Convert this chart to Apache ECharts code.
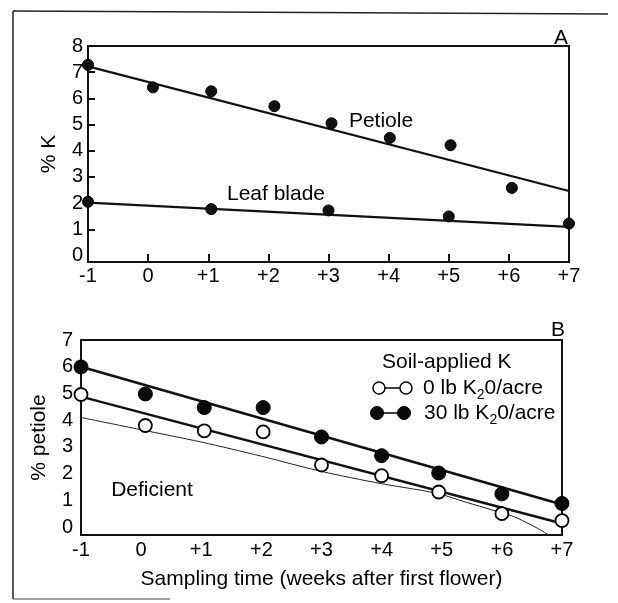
<!DOCTYPE html>
<html>
<head>
<meta charset="utf-8">
<script src="https://cdn.jsdelivr.net/npm/echarts@6/dist/echarts.min.js"></script>
<style>
html,body{margin:0;padding:0;background:#fff;}
#c{width:618px;height:603px;}
</style>
</head>
<body>
<div id="c"></div>
<script>
// ---- Panel A data ----
const xTicks = [-1, 0, 1, 2, 3, 4, 5, 6, 7];
const yTicksA = [0, 1, 2, 3, 4, 5, 6, 7, 8];
const yTicksB = [0, 1, 2, 3, 4, 5, 6, 7];
const petioleWeek = [-1, 0.08, 1.05, 2.1, 3.05, 4.02, 5.03, 6.05];
const petioleK = [7.28, 6.42, 6.27, 5.70, 5.05, 4.49, 4.21, 2.58];
const petioleFitWeek = [-1, 7];
const petioleFitK = [7.22, 2.46];
const bladeWeek = [-1, 1.05, 3.0, 5.0, 7.0];
const bladeK = [2.05, 1.77, 1.72, 1.49, 1.22];
const bladeFitWeek = [-1, 7];
const bladeFitK = [2.02, 1.09];
// ---- Panel B data ----
const weekB = [-1, 0.07, 1.05, 2.03, 3, 4, 4.95, 6, 7];
const k30 = [5.99, 4.98, 4.47, 4.47, 3.37, 2.67, 2.02, 1.24, 0.88];
const k0 = [4.96, 3.80, 3.60, 3.56, 2.32, 1.92, 1.31, 0.50, 0.24];
const fit30Week = [-1, 7];
const fit30 = [6.0, 0.84];
const fit0Week = [-1, 7];
const fit0 = [4.88, 0.13];
const critWeek = [-1, 0, 1, 2, 3, 4, 4.9, 5.4, 5.85, 6.15, 6.4, 6.6, 6.78];
const critK = [4.1, 3.64, 3.18, 2.65, 2.08, 1.62, 1.27, 0.93, 0.63, 0.43, 0.18, -0.06, -0.3];

const FONT = '"Liberation Sans", Arial, sans-serif';
const zip = (a, b) => a.map((v, i) => [v, b[i]]);
const fmtX = v => (v > 0 ? '+' + v : String(v));

const chart = echarts.init(document.getElementById('c'), null, {renderer: 'canvas'});

const subRich = {
  n: {fontSize: 21, lineHeight: 24, verticalAlign: 'top', fontFamily: FONT, fill: '#000'},
  s: {fontSize: 14, lineHeight: 14, padding: [14, 0, 0, 0], verticalAlign: 'bottom', fontFamily: FONT, fill: '#000'}
};

const AX = {color: '#111', width: 2};

const option = {
  animation: false,
  backgroundColor: '#fff',
  textStyle: {fontFamily: FONT, color: '#000'},
  grid: [
    {left: 88, right: 49, top: 46, height: 216, show: true, borderColor: '#111', borderWidth: 2, backgroundColor: 'transparent'},
    {left: 81, right: 56, top: 340, height: 195, show: true, borderColor: '#111', borderWidth: 2, backgroundColor: 'transparent'}
  ],
  xAxis: [
    {type: 'value', gridIndex: 0, min: -1, max: 7, interval: 1,
     axisLine: {show: true, onZero: false, lineStyle: AX},
     axisTick: {show: true, inside: true, length: 8, lineStyle: AX},
     splitLine: {show: false},
     axisLabel: {formatter: fmtX, fontSize: 20, color: '#000', margin: 4, fontFamily: FONT}},
    {type: 'value', gridIndex: 1, min: -1, max: 7, interval: 1,
     axisLine: {show: true, onZero: false, lineStyle: AX},
     axisTick: {show: false},
     splitLine: {show: false},
     axisLabel: {formatter: fmtX, fontSize: 20, color: '#000', margin: 5, fontFamily: FONT},
     name: 'Sampling time (weeks after first flower)', nameLocation: 'middle', nameGap: 34,
     nameTextStyle: {fontSize: 21, color: '#000', fontFamily: FONT}}
  ],
  yAxis: [
    {type: 'value', gridIndex: 0, min: -0.25, max: 8,
     axisLine: {show: true, onZero: false, lineStyle: AX},
     axisTick: {show: true, inside: true, length: 7, customValues: yTicksA.slice(1, 8), lineStyle: AX},
     splitLine: {show: false},
     axisLabel: {customValues: yTicksA, fontSize: 20, color: '#000', margin: 5, fontFamily: FONT},
     name: '% K', nameLocation: 'middle', nameGap: 28, nameRotate: 90,
     nameTextStyle: {fontSize: 21, color: '#000', fontFamily: FONT}},
    {type: 'value', gridIndex: 1, min: -0.3, max: 7,
     axisLine: {show: true, onZero: false, lineStyle: AX},
     axisTick: {show: false},
     splitLine: {show: false},
     axisLabel: {customValues: yTicksB, fontSize: 20, color: '#000', margin: 8, fontFamily: FONT},
     name: '% petiole', nameLocation: 'middle', nameGap: 31, nameRotate: 90,
     nameTextStyle: {fontSize: 21, color: '#000', fontFamily: FONT}}
  ],
  series: [
    {name: 'Petiole fit', type: 'line', xAxisIndex: 0, yAxisIndex: 0, data: zip(petioleFitWeek, petioleFitK),
     symbol: 'none', lineStyle: {color: '#111', width: 2.2}, z: 2},
    {name: 'Leaf blade fit', type: 'line', xAxisIndex: 0, yAxisIndex: 0, data: zip(bladeFitWeek, bladeFitK),
     symbol: 'none', lineStyle: {color: '#111', width: 2.2}, z: 2},
    {name: 'Petiole', type: 'scatter', xAxisIndex: 0, yAxisIndex: 0, data: zip(petioleWeek, petioleK),
     symbol: 'circle', symbolSize: 11, itemStyle: {color: '#111', borderColor: '#000', borderWidth: 1, opacity: 1}, z: 3},
    {name: 'Leaf blade', type: 'scatter', xAxisIndex: 0, yAxisIndex: 0, data: zip(bladeWeek, bladeK),
     symbol: 'circle', symbolSize: 11, itemStyle: {color: '#111', borderColor: '#000', borderWidth: 1, opacity: 1}, z: 3},

    {name: 'Critical', type: 'line', xAxisIndex: 1, yAxisIndex: 1, data: zip(critWeek, critK),
     symbol: 'none', smooth: 0.3, lineStyle: {color: '#222', width: 1}, z: 1},
    {name: '30 fit', type: 'line', xAxisIndex: 1, yAxisIndex: 1, data: zip(fit30Week, fit30),
     symbol: 'none', lineStyle: {color: '#111', width: 2.5}, z: 2},
    {name: '0 fit', type: 'line', xAxisIndex: 1, yAxisIndex: 1, data: zip(fit0Week, fit0),
     symbol: 'none', lineStyle: {color: '#111', width: 2.5}, z: 2},
    {name: '30 lb K2O/acre', type: 'scatter', xAxisIndex: 1, yAxisIndex: 1, data: zip(weekB, k30),
     symbol: 'circle', symbolSize: 14, itemStyle: {color: '#0a0a0a', borderColor: '#000', borderWidth: 1, opacity: 1}, z: 3},
    {name: '0 lb K2O/acre', type: 'scatter', xAxisIndex: 1, yAxisIndex: 1, data: zip(weekB, k0),
     symbol: 'circle', symbolSize: 13, itemStyle: {color: '#fff', borderColor: '#000', borderWidth: 1.8, opacity: 1}, z: 3}
  ],
  graphic: [
    // outer frame
    {type: 'line', shape: {x1: 13, y1: 11, x2: 608, y2: 14}, style: {stroke: '#222', lineWidth: 1.5}, silent: true},
    {type: 'line', shape: {x1: 13, y1: 11, x2: 13, y2: 599}, style: {stroke: '#222', lineWidth: 1.5}, silent: true},
    {type: 'line', shape: {x1: 13, y1: 599, x2: 170, y2: 599}, style: {stroke: '#444', lineWidth: 1.2}, silent: true},
    // panel letters
    {type: 'text', x: 561, y: 38, style: {text: 'A', font: '21px ' + FONT, fill: '#000', align: 'center', verticalAlign: 'middle'}},
    {type: 'text', x: 558, y: 330, style: {text: 'B', font: '21px ' + FONT, fill: '#000', align: 'center', verticalAlign: 'middle'}},
    // annotations
    {type: 'text', x: 381, y: 121, style: {text: 'Petiole', font: '21px ' + FONT, fill: '#000', align: 'center', verticalAlign: 'middle'}},
    {type: 'text', x: 276, y: 194, style: {text: 'Leaf blade', font: '21px ' + FONT, fill: '#000', align: 'center', verticalAlign: 'middle'}},
    {type: 'text', x: 152, y: 490, style: {text: 'Deficient', font: '21px ' + FONT, fill: '#000', align: 'center', verticalAlign: 'middle'}},
    // legend
    {type: 'text', x: 382, y: 362, style: {text: 'Soil-applied K', font: '21px ' + FONT, fill: '#000', align: 'left', verticalAlign: 'middle'}},
    {type: 'line', shape: {x1: 379, y1: 388, x2: 406, y2: 388}, style: {stroke: '#000', lineWidth: 1.5}},
    {type: 'circle', shape: {cx: 379, cy: 388, r: 6}, style: {fill: '#fff', stroke: '#000', lineWidth: 1.5}},
    {type: 'circle', shape: {cx: 406, cy: 388, r: 6}, style: {fill: '#fff', stroke: '#000', lineWidth: 1.5}},
    {type: 'text', x: 423, y: 390, style: {text: '{n|0 lb K}{s|2}{n|0/acre}', rich: subRich, align: 'left', verticalAlign: 'middle'}},
    {type: 'line', shape: {x1: 377, y1: 413, x2: 404, y2: 413}, style: {stroke: '#000', lineWidth: 1.5}},
    {type: 'circle', shape: {cx: 377, cy: 413, r: 6.5}, style: {fill: '#0a0a0a', stroke: '#000', lineWidth: 1}},
    {type: 'circle', shape: {cx: 404, cy: 413, r: 6.5}, style: {fill: '#0a0a0a', stroke: '#000', lineWidth: 1}},
    {type: 'text', x: 424, y: 415, style: {text: '{n|30 lb K}{s|2}{n|0/acre}', rich: subRich, align: 'left', verticalAlign: 'middle'}}
  ]
};
chart.setOption(option);
</script>
</body>
</html>
